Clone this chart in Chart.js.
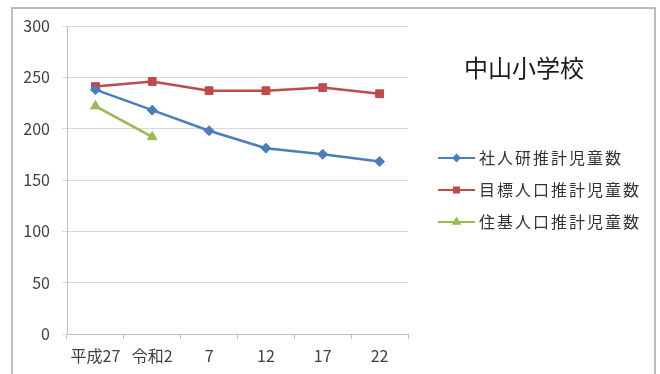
<!DOCTYPE html>
<html>
<head>
<meta charset="utf-8">
<script src="https://cdn.jsdelivr.net/npm/chart.js@4/dist/chart.umd.min.js"></script>
<style>
  html, body { margin: 0; padding: 0; background: #fff; }
  #wrap { width: 660px; height: 374px; position: relative; }
</style>
</head>
<body>
<div id="wrap"><canvas id="c" width="660" height="374"></canvas></div>
<script>
// 年度（和暦）
const categories = ['平成27', '令和2', '7', '12', '17', '22'];
// 推計児童数
const shajinken = [238, 218, 198, 181, 175, 168];
const mokuhyo = [241, 246, 237, 237, 240, 234];
const juki = [222, 192, null, null, null, null];
const seriesNames = ['社人研推計児童数', '目標人口推計児童数', '住基人口推計児童数'];
const chartTitle = '中山小学校';
const yTicks = [0, 50, 100, 150, 200, 250, 300];

const JP = '"Noto Sans CJK JP", "Noto Sans", sans-serif';
const colors = ['#4a7ebb', '#be4b48', '#98b954'];
const markers = ['rectRot', 'rect', 'triangle'];
const markerSize = [5, 5.5, 5.5];

// 枠・タイトル・凡例を描くプラグイン
const decor = {
  id: 'decor',
  afterDraw(chart) {
    const ctx = chart.ctx;
    ctx.save();
    ctx.strokeStyle = '#a6a6a6';
    ctx.lineWidth = 1.5;
    ctx.strokeRect(12, 8, 643, 380);

    ctx.fillStyle = '#1a1a1a';
    ctx.font = '24px ' + JP;
    ctx.textAlign = 'center';
    ctx.textBaseline = 'middle';
    ctx.fillText(chartTitle, 524, 68);

    const rows = [158, 190, 222];
    chart.data.datasets.forEach((ds, i) => {
      const y = rows[i];
      ctx.strokeStyle = ds.borderColor;
      ctx.lineWidth = 2;
      ctx.beginPath();
      ctx.moveTo(438, y);
      ctx.lineTo(475, y);
      ctx.stroke();
      ctx.fillStyle = ds.borderColor;
      Chart.helpers.drawPoint(ctx, {
        pointStyle: ds.pointStyle, radius: ds.pointRadius - 2, borderWidth: 1
      }, 456.5, y);
      ctx.fillStyle = '#333';
      ctx.font = '16px ' + JP;
      ctx.textAlign = 'left';
      ctx.letterSpacing = '2px';
      ctx.fillText(ds.label, 479, y);
      ctx.letterSpacing = '0px';
    });
    ctx.restore();
  }
};

const datasets = [shajinken, mokuhyo, juki].map((d, i) => ({
  label: seriesNames[i],
  data: d,
  borderColor: colors[i],
  backgroundColor: colors[i],
  pointBackgroundColor: colors[i],
  pointBorderColor: colors[i],
  borderWidth: 2.5,
  pointStyle: markers[i],
  pointRadius: markerSize[i],
  pointBorderWidth: 1,
  tension: 0,
  spanGaps: false
}));

new Chart(document.getElementById('c'), {
  type: 'line',
  data: { labels: categories, datasets },
  options: {
    responsive: false,
    animation: false,
    devicePixelRatio: 1,
    layout: { padding: { left: 0, right: 252, top: 26, bottom: 0 } },
    plugins: { legend: { display: false }, tooltip: { enabled: false } },
    scales: {
      x: {
        offset: true,
        grid: { display: true, drawOnChartArea: false, offset: true, tickLength: 5, color: '#bfbfbf' },
        border: { color: '#bfbfbf', width: 1 },
        ticks: { color: '#404040', font: { family: JP, size: 16 }, padding: 7, maxRotation: 0, autoSkip: false },
        afterFit(s) { s.height = 40; }
      },
      y: {
        min: 0, max: 300,
        afterBuildTicks(s) { s.ticks = yTicks.map(v => ({ value: v })); },
        grid: { color: '#d9d9d9', tickLength: 5, lineWidth: 1 },
        border: { color: '#bfbfbf', width: 1 },
        ticks: { color: '#404040', font: { family: JP, size: 16 }, padding: 12 },
        afterFit(s) { s.width = 67; }
      }
    }
  },
  plugins: [decor]
});
</script>
</body>
</html>
